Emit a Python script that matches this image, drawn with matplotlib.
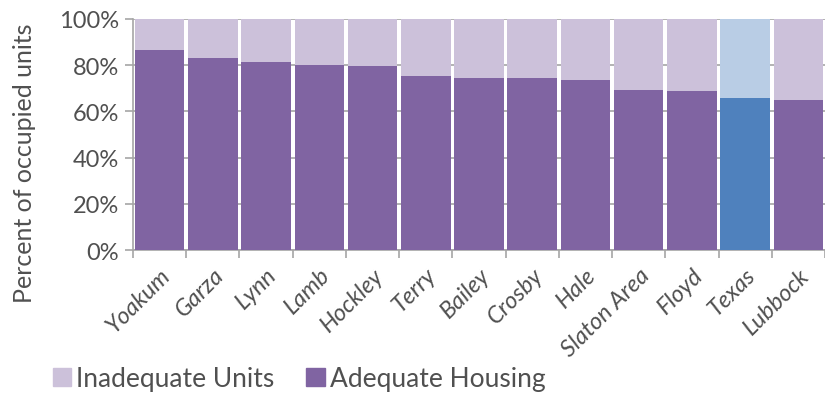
import matplotlib
matplotlib.use("Agg")
import matplotlib.pyplot as plt
from matplotlib.patches import Patch
import numpy as np

counties = ["Yoakum", "Garza", "Lynn", "Lamb", "Hockley", "Terry", "Bailey",
            "Crosby", "Hale", "Slaton Area", "Floyd", "Texas", "Lubbock"]
adequate = [86.7, 83.3, 81.5, 80.2, 79.8, 75.3, 74.6, 74.6, 73.7, 69.4, 69.0, 65.9, 65.1]
inadequate = [100 - a for a in adequate]

purple_dark = "#8064a2"
purple_light = "#ccc1da"
blue_dark = "#4f81bd"
blue_light = "#b9cde5"
txt = "#505050"

plt.rcParams['font.family'] = ['Lato', 'DejaVu Sans']

fig = plt.figure(figsize=(8.25, 4.02), dpi=100)
ax = fig.add_axes([133 / 825, 1 - 251 / 402, 692 / 825, 231 / 402])

x = np.arange(len(counties))
dark_cols = [blue_dark if c == "Texas" else purple_dark for c in counties]
light_cols = [blue_light if c == "Texas" else purple_light for c in counties]
ax.bar(x, adequate, width=0.93, color=dark_cols, zorder=3)
ax.bar(x, inadequate, bottom=adequate, width=0.93, color=light_cols, zorder=3)

ax.set_xlim(-0.5, len(counties) - 0.5)
ax.set_ylim(0, 100)
ax.set_yticks(range(0, 101, 20))
ax.set_yticklabels([f"{v}%" for v in range(0, 101, 20)], fontsize=17, color=txt)
ax.yaxis.grid(True, color="#a6a6a6", linewidth=1.2, zorder=0)
ax.set_xticks(np.arange(-0.5, len(counties), 1.0))
ax.set_xticklabels([])
ax.set_xticks(x, minor=True)
ax.set_xticklabels(counties, minor=True, rotation=45, ha="right", rotation_mode="anchor",
                   fontsize=17, color=txt, style="italic")
ax.tick_params(axis="x", which="major", length=6, color="#a6a6a6", width=1.2)
ax.tick_params(axis="x", which="minor", length=0, pad=10)
ax.tick_params(axis="y", length=6, color="#a6a6a6", width=1.2, pad=4)
for s in ["top", "right"]:
    ax.spines[s].set_visible(False)
for s in ["left", "bottom"]:
    ax.spines[s].set_color("#a6a6a6")
    ax.spines[s].set_linewidth(1.2)
ax.set_ylabel("Percent of occupied units", fontsize=18, color=txt)
ax.yaxis.set_label_coords(-0.14, 0.38)

handles = [Patch(color=purple_light, label="Inadequate Units"),
           Patch(color=purple_dark, label="Adequate Housing")]
fig.legend(handles=handles, loc="center left", bbox_to_anchor=(0.035, 0.055), ncol=2,
           frameon=False, fontsize=19, handlelength=0.7, handleheight=0.7,
           handletextpad=0.2, columnspacing=1.2, labelcolor=txt)

fig.savefig("out.png", dpi=100)
